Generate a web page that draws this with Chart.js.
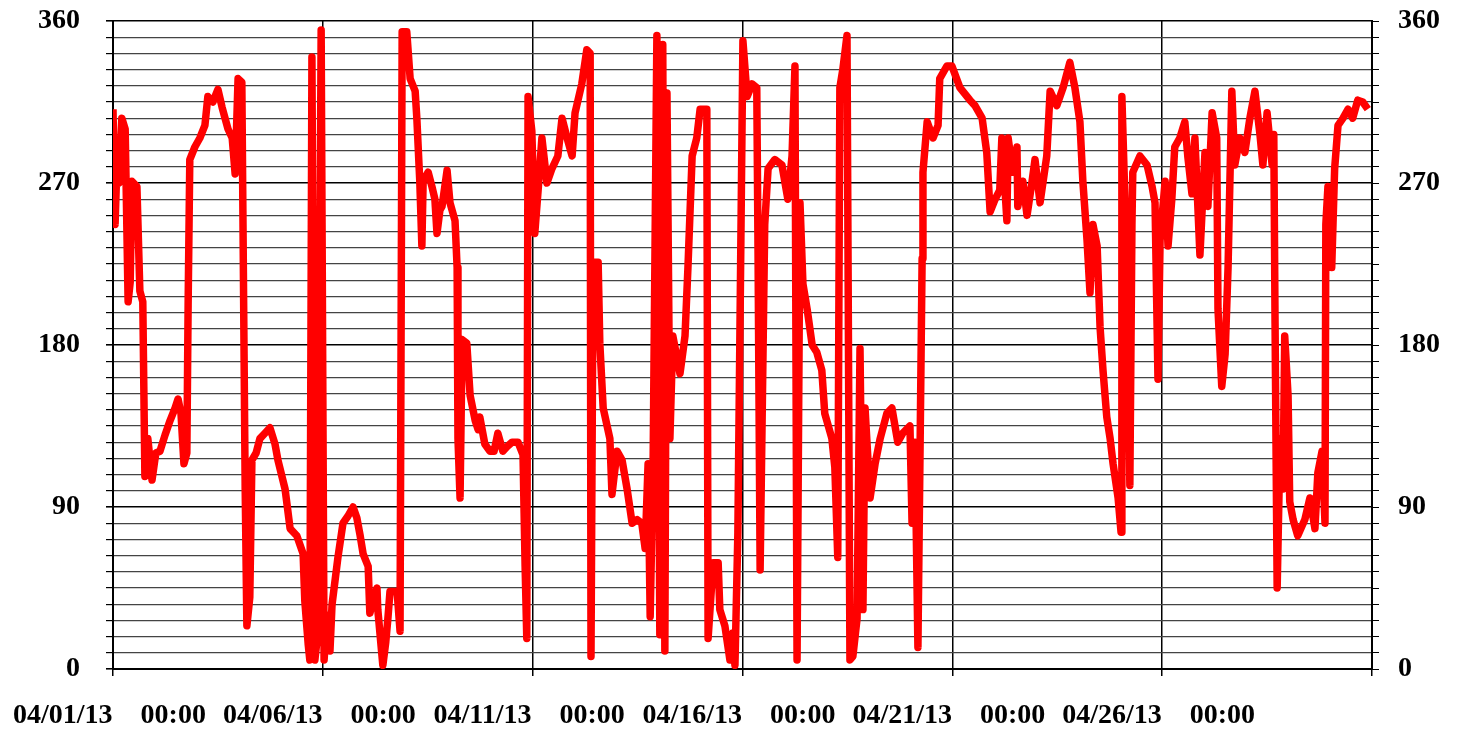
<!DOCTYPE html>
<html>
<head>
<meta charset="utf-8">
<script src="https://cdn.jsdelivr.net/npm/chart.js@4.4.1/dist/chart.umd.min.js"></script>
<style>
  html, body { margin: 0; padding: 0; background: #fff; }
  #wrap { width: 1461px; height: 731px; position: relative; }
</style>
</head>
<body>
<div id="wrap"><canvas id="dirChart"></canvas></div>
<script>
// x: days since 04/01/13 00:00, y: direction in degrees
const days = [
  0.00, 0.05, 0.10, 0.14, 0.21, 0.29, 0.36, 0.41, 0.45, 0.57, 0.64, 0.71, 0.76, 0.83, 0.93,
  1.02, 1.12, 1.24, 1.36, 1.48, 1.55, 1.62, 1.69, 1.76, 1.79, 1.83, 1.95, 2.07, 2.19, 2.26,
  2.38, 2.50, 2.60, 2.74, 2.84, 2.91, 2.98, 3.07, 3.15, 3.19, 3.26, 3.31, 3.41, 3.50, 3.62,
  3.74, 3.86, 3.93, 4.10, 4.22, 4.38, 4.53, 4.57, 4.65, 4.69, 4.74, 4.81, 4.88, 4.96, 5.03,
  5.10, 5.17, 5.22, 5.36, 5.48, 5.60, 5.72, 5.81, 5.89, 5.96, 6.08, 6.12, 6.22, 6.29, 6.31,
  6.43, 6.50, 6.55, 6.60, 6.77, 6.84, 6.89, 7.00, 7.08, 7.20, 7.24, 7.31, 7.36, 7.39, 7.51,
  7.60, 7.67, 7.72, 7.79, 7.84, 7.96, 8.03, 8.15, 8.20, 8.22, 8.27, 8.32, 8.43, 8.51, 8.63,
  8.70, 8.74, 8.86, 8.98, 9.08, 9.17, 9.29, 9.41, 9.51, 9.65, 9.77, 9.82, 9.86, 9.89, 9.98,
  10.05, 10.13, 10.22, 10.34, 10.46, 10.60, 10.70, 10.82, 10.94, 11.01, 11.17, 11.29, 11.37, 11.39, 11.44,
  11.56, 11.60, 11.68, 11.84, 11.89, 12.01, 12.13, 12.25, 12.37, 12.49, 12.60, 12.68, 12.75, 12.80, 12.87,
  12.96, 13.03, 13.10, 13.15, 13.20, 13.27, 13.34, 13.51, 13.63, 13.70, 13.80, 13.91, 13.99, 14.15, 14.18,
  14.30, 14.42, 14.46, 14.58, 14.70, 14.77, 14.82, 14.89, 15.01, 15.11, 15.23, 15.34, 15.37, 15.42, 15.53,
  15.61, 15.77, 15.94, 16.08, 16.18, 16.25, 16.30, 16.37, 16.44, 16.54, 16.66, 16.77, 16.89, 16.96, 17.13,
  17.20, 17.27, 17.32, 17.39, 17.49, 17.56, 17.63, 17.73, 17.80, 17.87, 17.92, 18.04, 18.16, 18.28, 18.44,
  18.56, 18.70, 18.82, 18.99, 19.04, 19.11, 19.18, 19.28, 19.30, 19.40, 19.54, 19.66, 19.70, 19.87, 19.99,
  20.18, 20.42, 20.54, 20.71, 20.82, 20.90, 21.02, 21.13, 21.18, 21.30, 21.33, 21.44, 21.54, 21.56, 21.68,
  21.78, 21.90, 21.97, 22.09, 22.25, 22.33, 22.49, 22.64, 22.80, 22.92, 23.04, 23.11, 23.21, 23.28, 23.35,
  23.45, 23.52, 23.59, 23.68, 23.76, 23.83, 23.95, 24.02, 24.04, 24.16, 24.23, 24.28, 24.30, 24.47, 24.64,
  24.76, 24.83, 24.90, 24.95, 25.07, 25.14, 25.23, 25.30, 25.42, 25.54, 25.61, 25.71, 25.78, 25.90, 26.02,
  26.09, 26.19, 26.30, 26.33, 26.42, 26.50, 26.57, 26.66, 26.73, 26.85, 26.97, 27.09, 27.21, 27.33, 27.40,
  27.50, 27.62, 27.66, 27.69, 27.74, 27.81, 27.88, 27.92, 28.00, 28.04, 28.12, 28.23, 28.40, 28.52, 28.64,
  28.71, 28.81, 28.88, 28.90, 28.95, 29.04, 29.11, 29.19, 29.31, 29.43, 29.54, 29.66, 29.78, 29.90
];
const direction = [
  311, 247, 285, 270, 306, 300, 204, 215, 271, 268, 210, 204, 107, 128, 105,
  120, 121, 130, 138, 145, 150, 142, 114, 120, 202, 283, 290, 295, 302, 318,
  315, 322, 312, 300, 295, 275, 328, 326, 100, 24, 40, 116, 120, 128, 131,
  134, 125, 116, 100, 78, 74, 64, 38, 14, 5, 340, 5, 20, 355, 5,
  30, 10, 36, 62, 81, 85, 90, 84, 74, 64, 57, 31, 40, 45, 33,
  2, 15, 28, 43, 43, 21, 354, 354, 328, 321, 306, 271, 235, 271, 276,
  268, 261, 242, 255, 257, 277, 259, 249, 223, 128, 95, 183, 181, 152, 138,
  133, 140, 125, 121, 121, 131, 121, 124, 126, 126, 119, 57, 17, 318, 299,
  242, 266, 295, 270, 278, 285, 306, 295, 285, 309, 325, 344, 342, 7, 226,
  226, 181, 145, 128, 97, 121, 116, 100, 81, 83, 81, 67, 114, 29, 114,
  352, 19, 347, 10, 320, 128, 185, 164, 185, 223, 285, 295, 311, 311, 17,
  59, 59, 33, 24, 5, 20, 2, 76, 349, 318, 325, 323, 233, 55, 247,
  278, 283, 280, 261, 285, 335, 5, 259, 214, 200, 180, 176, 166, 142, 128,
  112, 62, 323, 333, 352, 5, 7, 28, 178, 33, 145, 95, 114, 128, 142,
  145, 126, 131, 135, 81, 126, 12, 228, 276, 304, 295, 302, 328, 335, 335,
  323, 316, 313, 306, 287, 254, 261, 266, 295, 249, 295, 276, 290, 257, 271,
  252, 271, 283, 259, 285, 321, 313, 323, 337, 323, 304, 271, 238, 209, 247,
  235, 190, 166, 140, 128, 114, 95, 76, 318, 223, 102, 247, 276, 285, 280,
  268, 259, 161, 238, 271, 235, 261, 290, 295, 304, 285, 264, 295, 230, 287,
  257, 309, 295, 200, 157, 175, 223, 321, 280, 295, 287, 306, 321, 297, 280,
  309, 280, 297, 192, 45, 128, 100, 185, 152, 93, 83, 74, 83, 95, 78,
  109, 121, 81, 247, 268, 223, 278, 302, 306, 311, 306, 316, 315, 311
];
const dateLabels = ['04/01/13', '04/06/13', '04/11/13', '04/16/13', '04/21/13', '04/26/13'];
const timeLabel = '00:00';
const yMajorStep = 90;

const points = days.map((d, i) => ({ x: d, y: direction[i] }));
const labelFont = { family: "'Liberation Serif', 'Times New Roman', serif", size: 28, weight: 'bold' };

const yTickLabel = v => (v % yMajorStep === 0 ? String(v) : '');

// fixed plot box: left 113, right 1372, top 21, bottom 669
const fitY = w => s => { s.width = w; s.paddingTop = 21; s.paddingBottom = 0; };

new Chart(document.getElementById('dirChart'), {
  type: 'line',
  data: {
    datasets: [{
      data: points,
      borderColor: '#ff0000',
      borderWidth: 7.5,
      borderJoinStyle: 'round',
      pointRadius: 0,
      tension: 0,
      yAxisID: 'y'
    }]
  },
  options: {
    responsive: true,
    maintainAspectRatio: false,
    animation: false,
    layout: { padding: 0 },
    plugins: { legend: { display: false }, tooltip: { enabled: false } },
    scales: {
      x: {
        type: 'linear',
        min: 0, max: 30,
        afterFit: s => { s.height = 62; s.paddingLeft = 0; s.paddingRight = 0; },
        ticks: {
          stepSize: 5, autoSkip: false, maxRotation: 0, padding: 23,
          color: '#000', font: labelFont,
          callback: v => (v / 5 < dateLabels.length ? dateLabels[v / 5] + '    ' + timeLabel + ' ' : '')
        },
        grid: { color: '#000', lineWidth: 1.5, tickLength: 7, tickColor: '#000' },
        border: { color: '#000', width: 2 }
      },
      y: {
        position: 'left',
        min: 0, max: 360,
        afterFit: fitY(113),
        ticks: { stepSize: 9, autoSkip: false, padding: 26, color: '#000', font: labelFont, callback: yTickLabel },
        grid: {
          color: c => (c.tick && c.tick.value % yMajorStep === 0 ? '#000' : '#444'),
          lineWidth: c => (c.tick && c.tick.value % yMajorStep === 0 ? 1.6 : 1.2),
          tickLength: 7, tickColor: '#000'
        },
        border: { color: '#000', width: 2 }
      },
      y2: {
        position: 'right',
        min: 0, max: 360,
        afterFit: fitY(89),
        ticks: { stepSize: 9, autoSkip: false, padding: 19, color: '#000', font: labelFont, callback: yTickLabel },
        grid: { drawOnChartArea: false, tickLength: 7, color: '#000' },
        border: { color: '#000', width: 2 }
      }
    }
  }
});
</script>
</body>
</html>
